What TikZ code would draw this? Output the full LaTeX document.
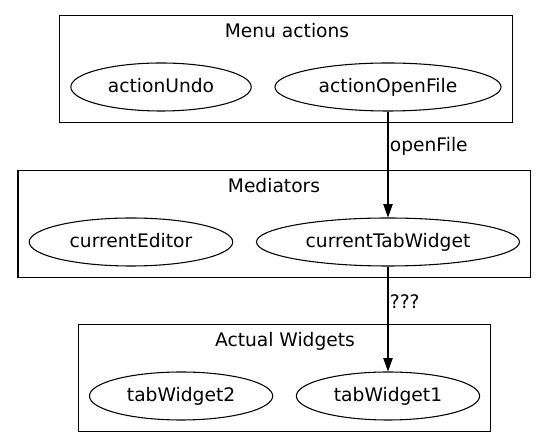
\documentclass[tikz,border=0pt]{standalone}
\usepackage{fontspec}
\setmainfont{DejaVu Sans}
\usetikzlibrary{arrows.meta,positioning,shapes.geometric,fit}

\begin{document}
\begin{tikzpicture}[
    x=0.75pt, y=-0.75pt,
    node distance=17pt,
    every node/.style={font=\fontsize{14pt}{16pt}\selectfont},
    obj/.style={draw, ellipse, line width=0.8pt, inner xsep=8pt, inner ysep=0pt, minimum height=36pt, text height=11pt, text depth=2pt},
    title/.style={anchor=base, inner sep=0pt, text height=8.5pt, text depth=0pt},
    cluster/.style={draw, rectangle, line width=0.8pt, inner sep=8pt},
    arrow/.style={-{Triangle[length=10pt,width=7pt]}, line width=0.8pt},
    elabel/.style={right, inner sep=1pt, pos=0.33}
]
    \useasboundingbox (0,0) rectangle (547,448);

    % Menu actions
    \node[obj] (actionOpenFile) at (388,87) {actionOpenFile};
    \node[obj, left=of actionOpenFile] (actionUndo) {actionUndo};
    \node[title] (menuTitle) at (287,38) {Menu actions};
    \node[cluster, fit=(actionUndo)(actionOpenFile)(menuTitle)] (menu) {};

    % Mediators
    \node[obj] (currentTabWidget) at (388,242) {currentTabWidget};
    \node[obj, left=of currentTabWidget] (currentEditor) {currentEditor};
    \node[title] (medTitle) at (274,193) {Mediators};
    \node[cluster, fit=(currentEditor)(currentTabWidget)(medTitle)] (mediators) {};

    % Actual Widgets
    \node[obj] (tabWidget1) at (388,396) {tabWidget1};
    \node[obj, left=of tabWidget1] (tabWidget2) {tabWidget2};
    \node[title] (widgetTitle) at (285,347) {Actual Widgets};
    \node[cluster, fit=(tabWidget2)(tabWidget1)(widgetTitle)] (widgets) {};

    \draw[arrow] (actionOpenFile) -- node[elabel] (openLbl) {openFile} (currentTabWidget);
    \draw[arrow] (currentTabWidget) -- node[elabel] (unknownLbl) {???} (tabWidget1);
\end{tikzpicture}
\end{document}
